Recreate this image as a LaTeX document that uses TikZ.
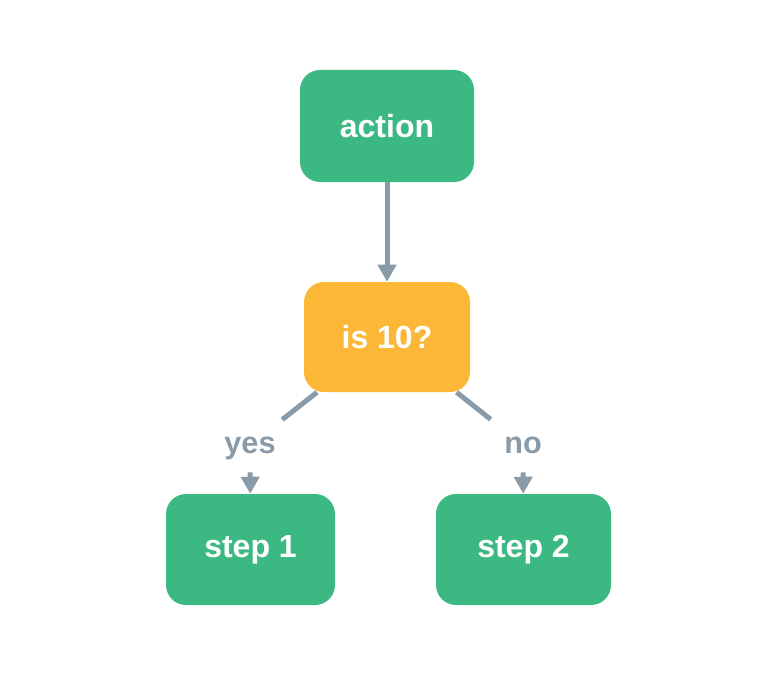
\documentclass[tikz,border=0pt]{standalone}
\usepackage{fontspec}
\setmainfont{Liberation Sans}
\usetikzlibrary{arrows.meta}
\definecolor{boxgreen}{RGB}{60,185,130}
\definecolor{boxorange}{RGB}{252,183,55}
\definecolor{linegray}{RGB}{137,155,168}
\tikzset{
  stepbox/.style={rounded corners=15pt, fill=boxgreen, text=white, font=\fontsize{24}{28}\selectfont\bfseries, inner sep=0pt},
  decbox/.style={stepbox, fill=boxorange},
  edgelabel/.style={text=linegray, font=\fontsize{23}{27}\selectfont\bfseries, minimum width=64*0.75pt, minimum height=54*0.75pt, inner sep=0pt, text height=17pt, text depth=5pt},
  conn/.style={draw=linegray, line width=3.75pt},
  arr/.style={conn, -{Triangle[width=13.5pt,length=12.75pt]}}
}
\begin{document}
\begin{tikzpicture}[x=0.75pt,y=-0.75pt]
\useasboundingbox (0,0) rectangle (780,688);
\node[stepbox, minimum width=174*0.75pt, minimum height=112*0.75pt] (action) at (387,126) {action};
\node[decbox, minimum width=166*0.75pt, minimum height=110*0.75pt] (dec) at (387,337) {is 10?};
\node[stepbox, minimum width=169*0.75pt, minimum height=111*0.75pt] (s1) at (250.5,549.5) {step 1};
\node[stepbox, minimum width=175*0.75pt, minimum height=111*0.75pt] (s2) at (523.5,549.5) {step 2};
\node[edgelabel] (yes) at (250,445) {yes};
\node[edgelabel] (no) at (523,445) {no};
\draw[arr] (action) -- (dec);
\draw[conn] (dec) -- (yes);
\draw[conn] (dec) -- (no);
\draw[arr] (yes) -- (s1);
\draw[arr] (no) -- (s2);
\end{tikzpicture}
\end{document}
